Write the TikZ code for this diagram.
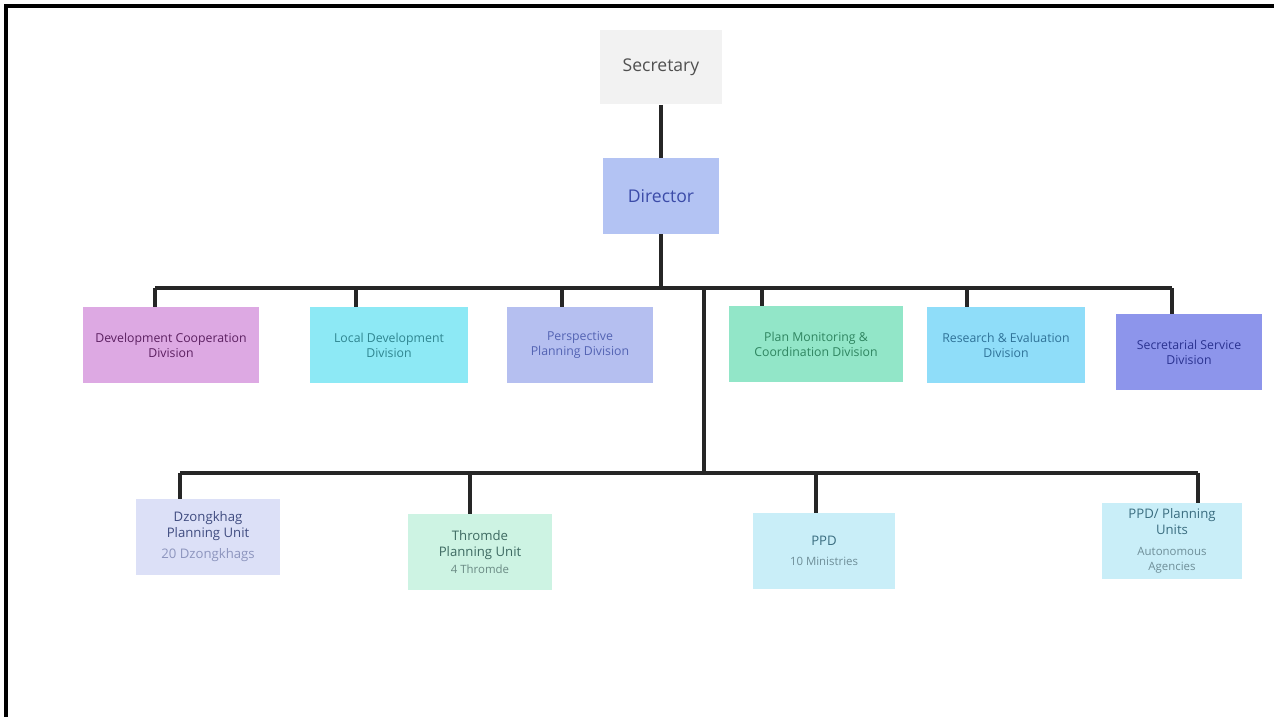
\documentclass[tikz,border=0pt]{standalone}
\usepackage{fontspec}
\setmainfont{Open Sans}
\usepackage{xcolor}

\definecolor{secfill}{HTML}{F2F2F2}
\definecolor{sectext}{HTML}{505050}
\definecolor{dirfill}{HTML}{B3C3F3}
\definecolor{dirtext}{HTML}{3B4BA8}
\definecolor{devcofill}{HTML}{DDA9E3}
\definecolor{devcotext}{HTML}{5B1F60}
\definecolor{locfill}{HTML}{8DE9F5}
\definecolor{loctext}{HTML}{2F8590}
\definecolor{perfill}{HTML}{B5BFF0}
\definecolor{pertext}{HTML}{5363B3}
\definecolor{monfill}{HTML}{92E6C8}
\definecolor{montext}{HTML}{2F8560}
\definecolor{resfill}{HTML}{8FDDF9}
\definecolor{restext}{HTML}{2F7298}
\definecolor{servfill}{HTML}{8D95EB}
\definecolor{servtext}{HTML}{2A3290}
\definecolor{dzfill}{HTML}{DCE0F7}
\definecolor{dztext}{HTML}{404C80}
\definecolor{dzsub}{HTML}{8D95BE}
\definecolor{thfill}{HTML}{CDF3E3}
\definecolor{thtext}{HTML}{3E6A62}
\definecolor{thsub}{HTML}{6A8A84}
\definecolor{ppdfill}{HTML}{C9EEF8}
\definecolor{ppdtext}{HTML}{3A6D80}
\definecolor{ppdsub}{HTML}{6E8E98}

\newcommand{\unitsub}[2]{{\fontsize{6.5}{8}\selectfont\color{#1}#2}}

\begin{document}
\begin{tikzpicture}[x=0.02cm,y=-0.02cm,
	box/.style={inner sep=0pt,align=center,minimum height=1.52cm},
	headtext/.style={font=\fontsize{10}{12}\selectfont},
	divtext/.style={font=\fontsize{7}{8.5}\selectfont},
	unittext/.style={font=\fontsize{7.5}{9}\selectfont},
	link/.style={line width=1.8pt,black!85}]

	\useasboundingbox (0,0) rectangle (1274,717);
	\draw[line width=1.8pt] (1274,6) -- (6,6) -- (6,717);

	% top of the chart
	\node[box,headtext,fill=secfill,text=sectext,minimum width=2.44cm,minimum height=1.5cm] (sec) at (661,67) {Secretary};
	\node[box,headtext,fill=dirfill,text=dirtext,minimum width=2.34cm] (dir) at (661,196) {Director};

	% divisions
	\node[box,divtext,fill=devcofill,text=devcotext,minimum width=3.54cm] (devco) at (171,345) {Development Cooperation\\Division};
	\node[box,divtext,fill=locfill,text=loctext,minimum width=3.16cm] (locdev) at (389,345) {Local Development\\Division};
	\node[box,divtext,fill=perfill,text=pertext,minimum width=2.92cm] (persp) at (580,345) {Perspective\\Planning Division};
	\node[box,divtext,fill=monfill,text=montext,minimum width=3.48cm] (planmon) at (816,344) {Plan Monitoring \&\\Coordination Division};
	\node[box,divtext,fill=resfill,text=restext,minimum width=3.18cm] (reseval) at (1006,345) {Research \& Evaluation\\Division};
	\node[box,divtext,fill=servfill,text=servtext,minimum width=2.92cm] (secserv) at (1189,352) {Secretarial Service\\Division};

	% planning units
	\node[box,unittext,fill=dzfill,text=dztext,minimum width=2.88cm] (dzong) at (208,537) {Dzongkhag\\Planning Unit\\[3pt]\textcolor{dzsub}{20 Dzongkhags}};
	\node[box,unittext,fill=thfill,text=thtext,minimum width=2.9cm] (thromde) at (480,552) {Thromde\\Planning Unit\\[1pt]\unitsub{thsub}{4 Thromde}};
	\node[box,unittext,fill=ppdfill,text=ppdtext,minimum width=2.84cm] (ppd) at (824,551) {PPD\\[2pt]\unitsub{ppdsub}{10 Ministries}};
	\node[box,unittext,fill=ppdfill,text=ppdtext,minimum width=2.8cm] (ppdunit) at (1172,541) {PPD/ Planning\\Units\\[3pt]\unitsub{ppdsub}{Autonomous}\\\unitsub{ppdsub}{Agencies}};

	% bus points
	\coordinate (dirbus) at (661,288);
	\coordinate (b1) at (155,288);
	\coordinate (b2) at (356,288);
	\coordinate (b3) at (562,288);
	\coordinate (b4) at (762,288);
	\coordinate (b5) at (967,288);
	\coordinate (b6) at (1172,288);
	\coordinate (trunk) at (704,288);
	\coordinate (c1) at (180,473);
	\coordinate (c2) at (470,473);
	\coordinate (c3) at (816,473);
	\coordinate (c4) at (1198,473);
	\coordinate (trunkend) at (704,473);

	\draw[link] (sec) -- (dir);
	\draw[link] (dir) -- (dirbus);
	\draw[link] (b1) -- (b6);
	\draw[link] (b1) -- (b1 |- devco.north);
	\draw[link] (b2) -- (b2 |- locdev.north);
	\draw[link] (b3) -- (b3 |- persp.north);
	\draw[link] (b4) -- (b4 |- planmon.north);
	\draw[link] (b5) -- (b5 |- reseval.north);
	\draw[link] (b6) -- (b6 |- secserv.north);

	\draw[link] (trunk) -- (trunkend);
	\draw[link] (c1) -- (c4);
	\draw[link] (c1) -- (c1 |- dzong.north);
	\draw[link] (c2) -- (c2 |- thromde.north);
	\draw[link] (c3) -- (c3 |- ppd.north);
	\draw[link] (c4) -- (c4 |- ppdunit.north);
\end{tikzpicture}
\end{document}
